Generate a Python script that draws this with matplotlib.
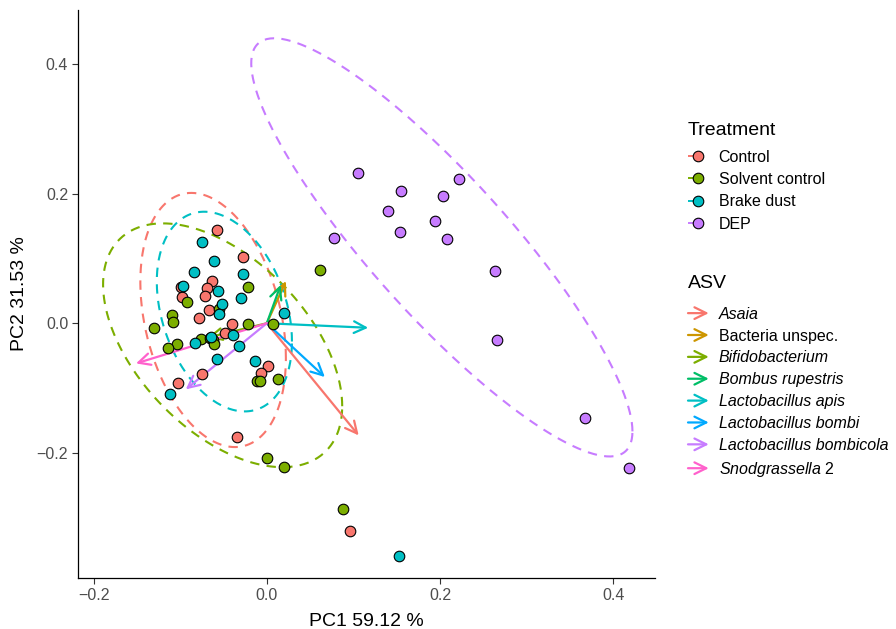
import numpy as np
import matplotlib
matplotlib.use('Agg')
import matplotlib.pyplot as plt
from matplotlib.lines import Line2D
from matplotlib.patches import FancyArrowPatch
from matplotlib.legend_handler import HandlerBase

plt.rcParams['font.family'] = ['Liberation Sans', 'DejaVu Sans']
plt.rcParams['mathtext.fontset'] = 'custom'
plt.rcParams['mathtext.rm'] = 'Liberation Sans'
plt.rcParams['mathtext.it'] = 'Liberation Sans:italic'

# sample scores (PC1, PC2) per treatment
control_x = [-0.0577, -0.0277, -0.0635, -0.0993, -0.0692, -0.0981, -0.0716, -0.0669, -0.0785,
             -0.0404, -0.0485, 0.0012, -0.0069, -0.0750, -0.1027, -0.0346, 0.0958]
control_y = [0.1435, 0.1019, 0.0648, 0.0556, 0.0540, 0.0401, 0.0417, 0.0201, 0.0077,
             -0.0015, -0.0154, -0.0664, -0.0772, -0.0787, -0.0926, -0.1759, -0.3210]
solvent_x = [-0.0219, -0.0923, -0.0554, -0.1096, -0.1085, -0.1304, -0.0219, 0.0069, -0.0762,
             -0.0658, -0.0623, -0.0612, -0.1039, -0.1143, -0.0115, -0.0081, 0.0127, 0.0612,
             0.0000, 0.0196, 0.0877]
solvent_y = [0.0556, 0.0324, 0.0216, 0.0123, 0.0015, -0.0077, -0.0015, -0.0015, -0.0247,
             -0.0231, -0.0262, -0.0324, -0.0324, -0.0386, -0.0895, -0.0895, -0.0864, 0.0818,
             -0.2083, -0.2222, -0.2870]
brake_x = [-0.0750, -0.0612, -0.0842, -0.0277, -0.0969, -0.0300, -0.0565, -0.0519, -0.0554,
           -0.0392, -0.0646, -0.0831, -0.0323, -0.0577, -0.0138, -0.1119, 0.0196, 0.1523]
brake_y = [0.1250, 0.0957, 0.0787, 0.0756, 0.0571, 0.0386, 0.0494, 0.0293, 0.0139,
           -0.0185, -0.0216, -0.0309, -0.0355, -0.0556, -0.0586, -0.1096, 0.0154, -0.3596]
dep_x = [0.1050, 0.1546, 0.2216, 0.2031, 0.1396, 0.1939, 0.1535, 0.2077, 0.0773,
         0.2631, 0.2654, 0.3670, 0.4178]
dep_y = [0.2315, 0.2037, 0.2222, 0.1960, 0.1728, 0.1574, 0.1404, 0.1296, 0.1312,
         0.0802, -0.0262, -0.1466, -0.2238]

treatments = ['Control', 'Solvent control', 'Brake dust', 'DEP']
treat_colors = ['#F8766D', '#7CAE00', '#00BFC4', '#C77CFF']

# ellipse per treatment: centre x, centre y, sd x, sd y, correlation
ell_cx = [-0.062, -0.051, -0.049, 0.202]
ell_cy = [0.005, -0.034, 0.018, 0.117]
ell_sx = [0.084, 0.138, 0.078, 0.220]
ell_sy = [0.196, 0.188, 0.154, 0.3225]
ell_r = [-0.30, -0.50, -0.30, -0.88]

# ASV loadings
asv = ['Asaia', 'Bacteria unspec.', 'Bifidobacterium', 'Bombus rupestris',
       'Lactobacillus apis', 'Lactobacillus bombi', 'Lactobacillus bombicola', 'Snodgrassella 2']
asv_x = [0.106, 0.022, -0.068, 0.016, 0.117, 0.067, -0.0935, -0.151]
asv_y = [-0.173, 0.065, -0.022, 0.059, -0.007, -0.083, -0.102, -0.062]
asv_colors = ['#F8766D', '#CD9600', '#7CAE00', '#00BE67', '#00BFC4', '#00A9FF', '#C77CFF', '#FF61CC']

xs = [control_x, solvent_x, brake_x, dep_x]
ys = [control_y, solvent_y, brake_y, dep_y]

fig = plt.figure(figsize=(8.96, 6.29), dpi=100)
ax = fig.add_axes([0.087, 0.081, 0.644, 0.903])

t = np.linspace(0, 2 * np.pi, 300)
for i in range(4):
    S = np.array([[ell_sx[i] ** 2, ell_r[i] * ell_sx[i] * ell_sy[i]],
                  [ell_r[i] * ell_sx[i] * ell_sy[i], ell_sy[i] ** 2]])
    L = np.linalg.cholesky(S)
    pts = L @ np.vstack([np.cos(t), np.sin(t)])
    ax.plot(ell_cx[i] + pts[0], ell_cy[i] + pts[1], color=treat_colors[i],
            lw=1.5, ls=(0, (4.5, 3.5)), zorder=1)

for i in range(len(asv)):
    ax.annotate('', xy=(asv_x[i], asv_y[i]), xytext=(0, 0),
                arrowprops=dict(arrowstyle='->,head_length=0.85,head_width=0.42',
                                color=asv_colors[i], lw=1.6, shrinkA=0, shrinkB=0,
                                mutation_scale=10), zorder=2)

for i in range(4):
    ax.scatter(xs[i], ys[i], s=58, c=treat_colors[i], edgecolors='black',
               linewidths=0.8, zorder=3)

ax.set_xlim(-0.218, 0.448)
ax.set_ylim(-0.393, 0.483)
ax.set_xticks([-0.2, 0.0, 0.2, 0.4])
ax.set_yticks([-0.2, 0.0, 0.2, 0.4])
ax.set_xticklabels(['\u22120.2', '0.0', '0.2', '0.4'])
ax.set_yticklabels(['\u22120.2', '0.0', '0.2', '0.4'])
for s in ['top', 'right']:
    ax.spines[s].set_visible(False)
for s in ['left', 'bottom']:
    ax.spines[s].set_linewidth(0.9)
ax.tick_params(direction='out', length=4, width=0.8, color='#333333',
               labelsize=11.5, labelcolor='#4D4D4D', pad=3)
ax.set_xlabel('PC1 59.12 %', fontsize=14, labelpad=7.5)
ax.set_ylabel('PC2 31.53 %', fontsize=14, labelpad=6)


class ArrowHandler(HandlerBase):
    def create_artists(self, legend, orig_handle, xdescent, ydescent, width, height,
                       fontsize, trans):
        y = height / 2 - ydescent
        a = FancyArrowPatch((-xdescent, y), (-xdescent + width, y),
                            arrowstyle='->,head_length=0.85,head_width=0.42',
                            mutation_scale=10, color=orig_handle.get_color(), lw=1.6,
                            shrinkA=0, shrinkB=0, transform=trans)
        return [a]


treat_handles = [Line2D([0], [0], color=c, lw=1.4, ls=(0, (3, 20)), marker='o',
                        markersize=7.6, markerfacecolor=c, markeredgecolor='black',
                        markeredgewidth=0.8) for c in treat_colors]
leg1 = fig.legend(treat_handles, treatments, title='Treatment', loc='upper left',
                  bbox_to_anchor=(688 / 896, 1 - 122 / 629), frameon=False, fontsize=11.5,
                  title_fontsize=14, alignment='left', handlelength=1.3, handletextpad=0.62,
                  labelspacing=0.46, borderpad=0, borderaxespad=0, numpoints=1)
leg1._legend_box.sep = 7.7

asv_labels = list(asv)
asv_labels[-1] = r'$\mathit{Snodgrassella}$ 2'
asv_handles = [Line2D([0], [0], color=c) for c in asv_colors]
leg2 = fig.legend(asv_handles, asv_labels, title='ASV', loc='upper left',
                  bbox_to_anchor=(688 / 896, 1 - 275 / 629), frameon=False, fontsize=11.5,
                  title_fontsize=14, alignment='left', handlelength=1.3, handletextpad=0.62,
                  labelspacing=0.43, borderpad=0, borderaxespad=0,
                  handler_map={h: ArrowHandler() for h in asv_handles})
leg2._legend_box.sep = 10.6
for txt, name in zip(leg2.get_texts(), asv):
    if name not in ('Bacteria unspec.', 'Snodgrassella 2'):
        txt.set_fontstyle('italic')

fig.savefig('out.png', dpi=100)
